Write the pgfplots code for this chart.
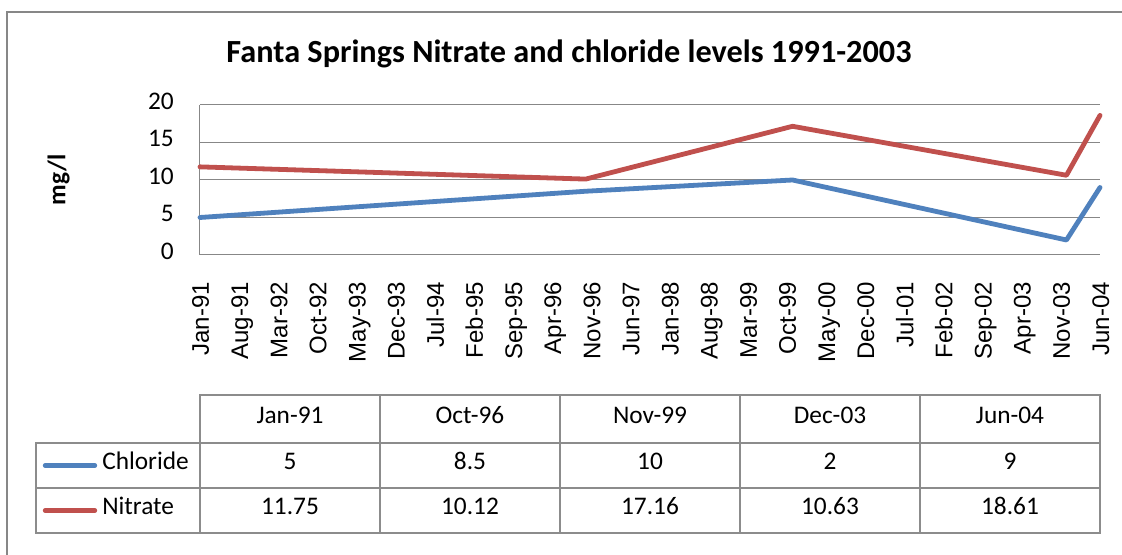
\documentclass[border=0pt]{standalone}
\usepackage{pgfplots}
\pgfplotsset{compat=1.18}
\usepackage{pgfplotstable}
\usepackage{fontspec}
\setmainfont{Carlito}
\newfontfamily\arialfont{Liberation Sans}
\definecolor{serblue}{HTML}{4F81BD}
\definecolor{serred}{HTML}{C0504D}
\definecolor{gridgray}{HTML}{878787}
\definecolor{tabgray}{HTML}{8C8C8C}

\pgfplotstableread{
month label chloride nitrate
0 Jan-91 5 11.75
69 Oct-96 8.5 10.12
106 Nov-99 10 17.16
155 Dec-03 2 10.63
161 Jun-04 9 18.61
}\datatable

\begin{document}
\begin{tikzpicture}[x=0.75pt,y=0.75pt,
  tabtext/.style={font=\fontsize{19}{22}\selectfont, inner sep=0pt, text height=0.644em, text depth=0pt, anchor=center}]
\useasboundingbox (0,0) rectangle (1122,555);
\fill[white] (0,0) rectangle (1122,555);
\draw[gridgray, line width=1.5pt] (7,-5) -- (7,543) -- (1130,543);
\coordinate (axorigin) at (200,300);
\begin{axis}[
  at={(axorigin)}, anchor=south west, scale only axis,
  width=675pt, height=112.5pt,
  xmin=0, xmax=161, ymin=0, ymax=20,
  clip=false,
  axis lines*=left, axis line style={-, gridgray, line width=0.75pt},
  ymajorgrids, grid style={gridgray, line width=0.75pt},
  major tick length=0pt,
  /pgf/number format/assume math mode=true,
  ytick={0,5,10,15,20},
  yticklabel style={font=\fontsize{19}{22}\selectfont, inner sep=0pt, anchor=east, xshift=-19.5pt, text height=0.632em, text depth=0pt},
  xtick={0,7,...,161},
  xticklabels={Jan-91,Aug-91,Mar-92,Oct-92,May-93,Dec-93,Jul-94,Feb-95,Sep-95,Apr-96,Nov-96,Jun-97,Jan-98,Aug-98,Mar-99,Oct-99,May-00,Dec-00,Jul-01,Feb-02,Sep-02,Apr-03,Nov-03,Jun-04},
  xticklabel style={font=\arialfont\fontsize{18}{21}\selectfont, yshift=-20.25pt, xshift=4.2pt, rotate=90, anchor=east, inner sep=0pt, text height=0.72em, text depth=0.21em},
  ylabel={mg/l},
  ylabel style={font=\bfseries\fontsize{19}{22}\selectfont, at={(axis description cs:-0.1572,0.5)}, anchor=center, rotate=0},
  title={Fanta Springs Nitrate and chloride levels 1991-2003},
  title style={font=\bfseries\fontsize{24.2}{28}\selectfont, at={(axis description cs:0.41,1.26)}, anchor=center, inner sep=0pt, text height=0.644em, text depth=0pt},
  no markers,
]
\addplot[serblue, line width=3.6pt, line join=round, line cap=round] table[x=month, y=chloride]{\datatable};
\addplot[serred, line width=3.6pt, line join=round, line cap=round] table[x=month, y=nitrate]{\datatable};
\end{axis}
% data table
\begin{scope}[tabgray, line width=1pt]
\draw (200,112) rectangle (1100,160);
\draw (36,22) rectangle (1100,112);
\draw (36,67) -- (1100,67);
\foreach \x in {380,560,740,920} \draw (\x,22) -- (\x,160);
\draw (200,22) -- (200,112);
\end{scope}
\foreach \i in {0,...,4} {
  \pgfplotstablegetelem{\i}{label}\of\datatable \let\lab\pgfplotsretval
  \pgfplotstablegetelem{\i}{chloride}\of\datatable \let\chl\pgfplotsretval
  \pgfplotstablegetelem{\i}{nitrate}\of\datatable \let\nit\pgfplotsretval
  \pgfmathsetmacro\cx{290+180*\i}
  \node[tabtext] at (\cx,136) {\lab};
  \node[tabtext] at (\cx,89.5) {\chl};
  \node[tabtext] at (\cx,44.5) {\nit};
}
\draw[serblue, line width=3.2pt, line cap=round] (45,89.5) -- (95,89.5);
\draw[serred, line width=3.2pt, line cap=round] (45,44.5) -- (95,44.5);
\node[tabtext, anchor=west] at (102,89.5) {Chloride};
\node[tabtext, anchor=west] at (102,44.5) {Nitrate};
\end{tikzpicture}
\end{document}
